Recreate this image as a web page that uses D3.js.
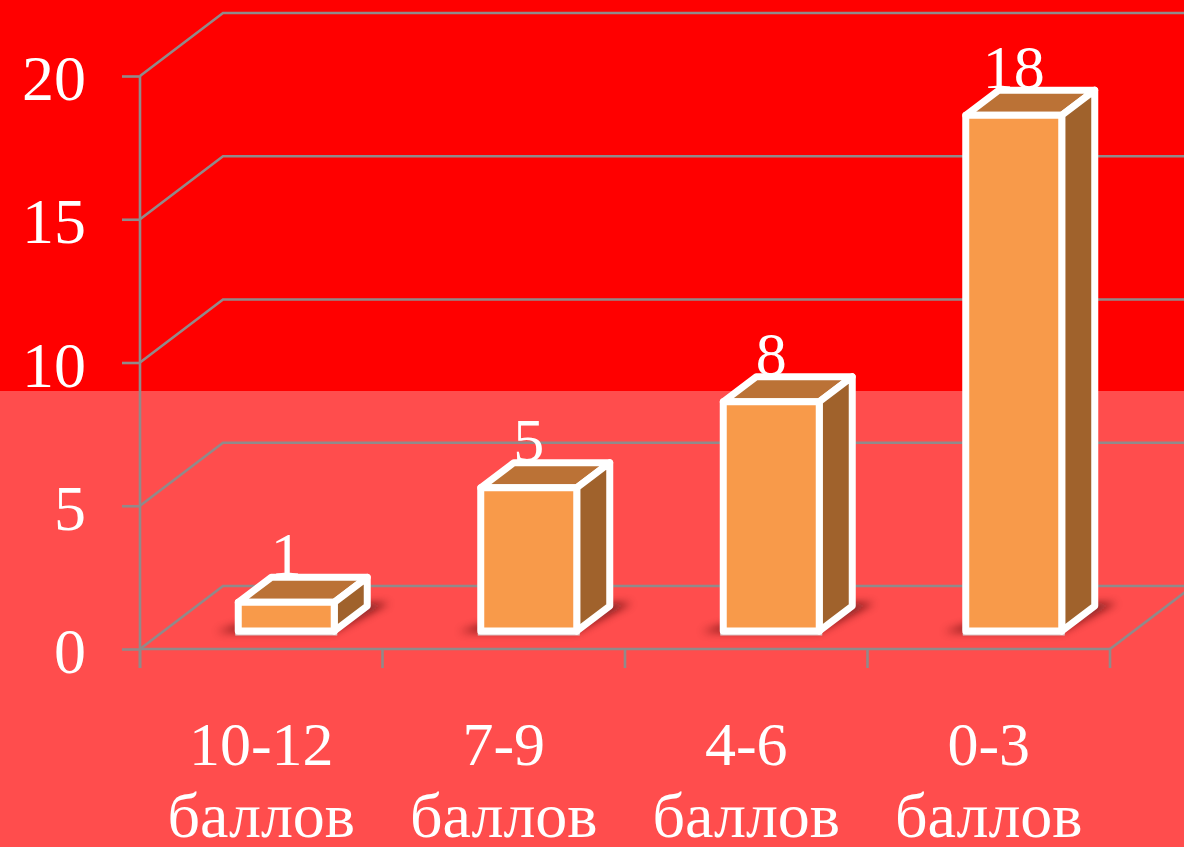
<!DOCTYPE html>
<html><head><meta charset="utf-8">
<script src="https://cdn.jsdelivr.net/npm/d3@7"></script>
<style>
html,body{margin:0;padding:0;background:#ff0000;overflow:hidden}
svg{display:block}
text{font-family:"Liberation Serif",serif;fill:#fff}
</style></head><body>
<svg id="c" width="1184" height="847"></svg>
<script>
const categories=["10-12","7-9","4-6","0-3"];
const categoryUnit="баллов";
const values=[1,5,8,18];
const yTicks=[0,5,10,15,20];

(function(){
const W=1184,H=847;
const depthX=83,depthY=63;
const svg=d3.select("#c");
const x=d3.scaleBand().domain(categories).range([140,1110]);
const y=d3.scaleLinear().domain([0,20]).range([649,76]);
const barW=96, barDX=33, barDY=25, barShift=25, floorLift=18;

const defs=svg.append("defs");
const f=defs.append("filter").attr("id","blur").attr("x","-50%").attr("y","-100%").attr("width","200%").attr("height","300%");
f.append("feGaussianBlur").attr("stdDeviation",4);

svg.append("rect").attr("width",W).attr("height",391).attr("fill","#ff0000");
svg.append("rect").attr("y",391).attr("width",W).attr("height",H-391).attr("fill","#ff4d4d");

const grid="#918a8a";
const g=svg.append("g").attr("fill","none").attr("stroke",grid).attr("stroke-width",2.6);
g.selectAll("path.grid").data(yTicks).join("path").attr("class","grid")
 .attr("d",d=>d3.line()([[x.range()[0],y(d)],[x.range()[0]+depthX,y(d)-depthY],[W+2,y(d)-depthY]]));
g.append("path").attr("d",d3.line()([[x.range()[1],y(0)],[x.range()[1]+depthX,y(0)-depthY]]));
g.append("path").attr("d",d3.line()([[x.range()[0],y(0)],[x.range()[1],y(0)]]));
g.append("path").attr("d",d3.line()([[x.range()[0],y(0)+19],[x.range()[0],y(20)]]));
const xEdges=categories.map(c=>x(c)).concat([x.range()[1]]);
g.selectAll("line.xt").data(xEdges).join("line").attr("class","xt")
 .attr("x1",d=>d).attr("x2",d=>d).attr("y1",y(0)).attr("y2",y(0)+19);

const ax=svg.append("g").attr("transform",`translate(${x.range()[0]},0)`)
 .call(d3.axisLeft(y).tickValues(yTicks).tickSize(18).tickPadding(36));
ax.select(".domain").remove();
ax.selectAll("line").attr("stroke",grid).attr("stroke-width",2.6);
ax.selectAll("text").attr("font-size",64).attr("fill","#fff").attr("dy","0.37em")
 .style("font-family",'"Liberation Serif",serif');

const cl=svg.append("g").attr("text-anchor","middle");
cl.selectAll("text.a").data(categories).join("text").attr("class","a").attr("font-size",62)
 .attr("x",d=>x(d)+x.bandwidth()/2).attr("y",765).text(d=>d);
cl.selectAll("text.b").data(categories).join("text").attr("class","b").attr("font-size",64)
 .attr("x",d=>x(d)+x.bandwidth()/2).attr("y",837).text(categoryUnit);

const rows=categories.map((c,i)=>({c,v:values[i]}));
const left=d=>x(d.c)+x.bandwidth()/2-barW/2+barShift;
const base=y(0)-floorLift;
const topY=d=>base-(y(0)-y(d.v));
svg.append("g").attr("text-anchor","middle").attr("font-size",62)
 .selectAll("text").data(rows).join("text")
 .attr("x",d=>left(d)+barW/2).attr("y",d=>topY(d)-27).text(d=>d.v);

const bars=svg.append("g").selectAll("g").data(rows).join("g");
bars.append("path").attr("fill","#4a0808").attr("opacity",.7).attr("filter","url(#blur)")
 .attr("d",d=>{const l=left(d);return d3.line()([[l-22,base+1],[l+barW,base+1],[l+barW+barDX+22,base-barDY-3],[l+barW+barDX,base-barDY-3],[l+barW,base-6],[l,base-6]]);});
bars.append("rect").attr("x",d=>left(d)-3).attr("width",barW+6).attr("y",base+1).attr("height",3.5).attr("fill","#d9c9c9");
const face=bars.append("g").attr("stroke","#fff").attr("stroke-width",7).attr("stroke-linejoin","round");
face.append("path").attr("fill","#bb7236")
 .attr("d",d=>{const l=left(d),t=topY(d);return d3.line()([[l,t],[l+barDX,t-barDY],[l+barW+barDX,t-barDY],[l+barW,t]])+"Z";});
face.append("path").attr("fill","#a0622c")
 .attr("d",d=>{const l=left(d),t=topY(d);return d3.line()([[l+barW,t],[l+barW+barDX,t-barDY],[l+barW+barDX,base-barDY],[l+barW,base]])+"Z";});
face.append("rect").attr("fill","#f89a4a")
 .attr("x",left).attr("y",topY).attr("width",barW).attr("height",d=>base-topY(d));
})();
</script>
</body></html>
